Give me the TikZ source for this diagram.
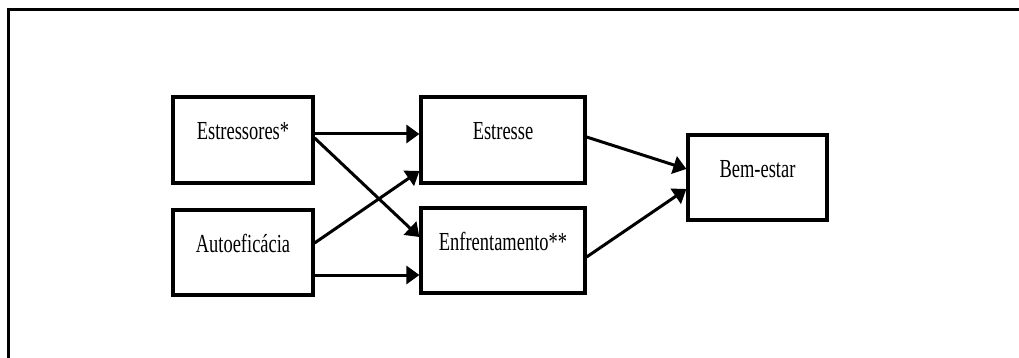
\documentclass[tikz,border=0pt]{standalone}
\usepackage{fontspec}
\setmainfont{Liberation Serif}[FakeStretch=0.71]
\usetikzlibrary{arrows.meta}
\begin{document}
\begin{tikzpicture}[x=1pt,y=-1pt,
  box/.style={draw=black,line width=3.2pt,inner sep=0pt,text height=17pt,text depth=17pt,
    font=\fontsize{26}{30}\selectfont},
  arr/.style={line width=3pt,-{Triangle[length=13pt,width=18pt]}},
  frame/.style={line width=3pt}]
\useasboundingbox (0,0) rectangle (1019,358);
\draw[frame] (1019,9.5) -- (8.5,9.5) -- (8.5,358);
\node[box,minimum width=140pt,minimum height=86pt] (es) at (243,140) {Estressores*};
\node[box,minimum width=140pt,minimum height=85pt] (au) at (243,252.5) {Autoeficácia};
\node[box,minimum width=164pt,minimum height=86pt] (st) at (503,140) {Estresse};
\node[box,minimum width=164pt,minimum height=85pt] (en) at (503,250.5) {Enfrentamento**};
\node[box,minimum width=139pt,minimum height=85pt] (be) at (757.5,177.5) {Bem-estar};
\draw[arr] ([yshift=6pt]es.east) -- ([yshift=6pt]st.west);
\draw[arr] ([yshift=2pt]es.east) -- ([yshift=13.5pt]en.west);
\draw[arr] ([yshift=9.5pt]au.east) -- ([yshift=-31pt]st.west);
\draw[arr] ([yshift=-22.5pt]au.east) -- ([yshift=-24.5pt]en.west);
\draw[arr] ([yshift=3pt]st.east) -- ([yshift=8.5pt]be.west);
\draw[arr] ([yshift=-6.5pt]en.east) -- ([yshift=-11.5pt]be.west);
\end{tikzpicture}
\end{document}
